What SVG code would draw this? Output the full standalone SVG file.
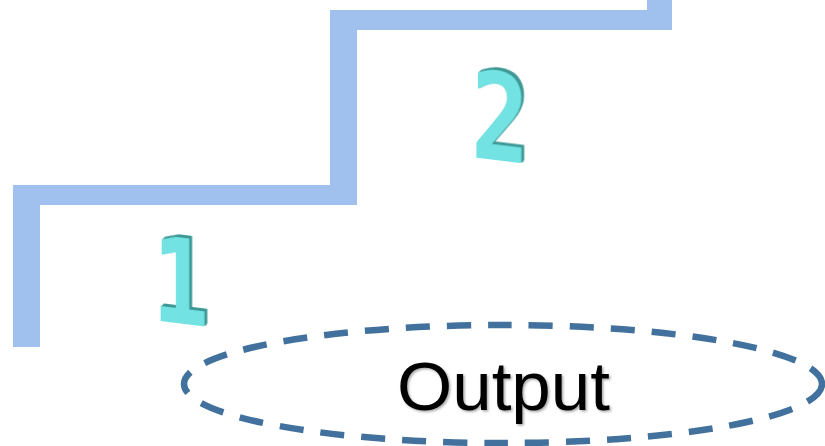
<svg xmlns="http://www.w3.org/2000/svg" width="825" height="446" viewBox="0 0 825 446">
  <style>
    .stair { fill: #A0C0EE; }
    .digit { font-family: "DejaVu Sans Mono", "Liberation Mono", monospace; font-weight: bold; font-size: 118px; fill: #72E3E2; filter: url(#extrude); }
    .out-ellipse { fill: none; stroke: #41719C; stroke-width: 6.5; stroke-dasharray: 24 17; }
    .out-text { font-family: "Liberation Sans", Arial, sans-serif; font-size: 68px; fill: #000; filter: url(#soft); }
  </style>
  <defs>
    <filter id="extrude" x="-20%" y="-20%" width="140%" height="140%">
      <feFlood flood-color="#3E9896" result="c"/>
      <feComposite in="c" in2="SourceAlpha" operator="in" result="dark"/>
      <feOffset in="dark" dx="1" dy="-0.7" result="o1"/>
      <feOffset in="dark" dx="2" dy="-1.4" result="o2"/>
      <feOffset in="dark" dx="3" dy="-2" result="o3"/>
      <feOffset in="dark" dx="4" dy="-2.6" result="o4"/>
      <feMerge>
        <feMergeNode in="o4"/>
        <feMergeNode in="o3"/>
        <feMergeNode in="o2"/>
        <feMergeNode in="o1"/>
        <feMergeNode in="SourceGraphic"/>
      </feMerge>
    </filter>
    <filter id="soft" x="-10%" y="-20%" width="120%" height="140%">
      <feDropShadow dx="1.5" dy="1.5" stdDeviation="1.2" flood-color="#000" flood-opacity="0.35"/>
    </filter>
  </defs>

  <g id="stairs">
    <path class="stair" d="M13,347 L13,185 L330,185 L330,10 L647,10 L647,0 L672,0 L672,30 L357,30 L357,205 L40,205 L40,347 Z"/>
  </g>

  <g id="step1">
    <text class="digit" transform="translate(152,320) skewY(7) scale(0.8,1.0)">1</text>
  </g>

  <g id="step2">
    <text class="digit" transform="translate(471,157) skewY(7) scale(0.82,1.02)">2</text>
  </g>

  <g id="output">
    <ellipse class="out-ellipse" cx="503" cy="384" rx="319" ry="59"/>
    <text class="out-text" x="397" y="410" textLength="213" lengthAdjust="spacingAndGlyphs">Output</text>
  </g>
</svg>
